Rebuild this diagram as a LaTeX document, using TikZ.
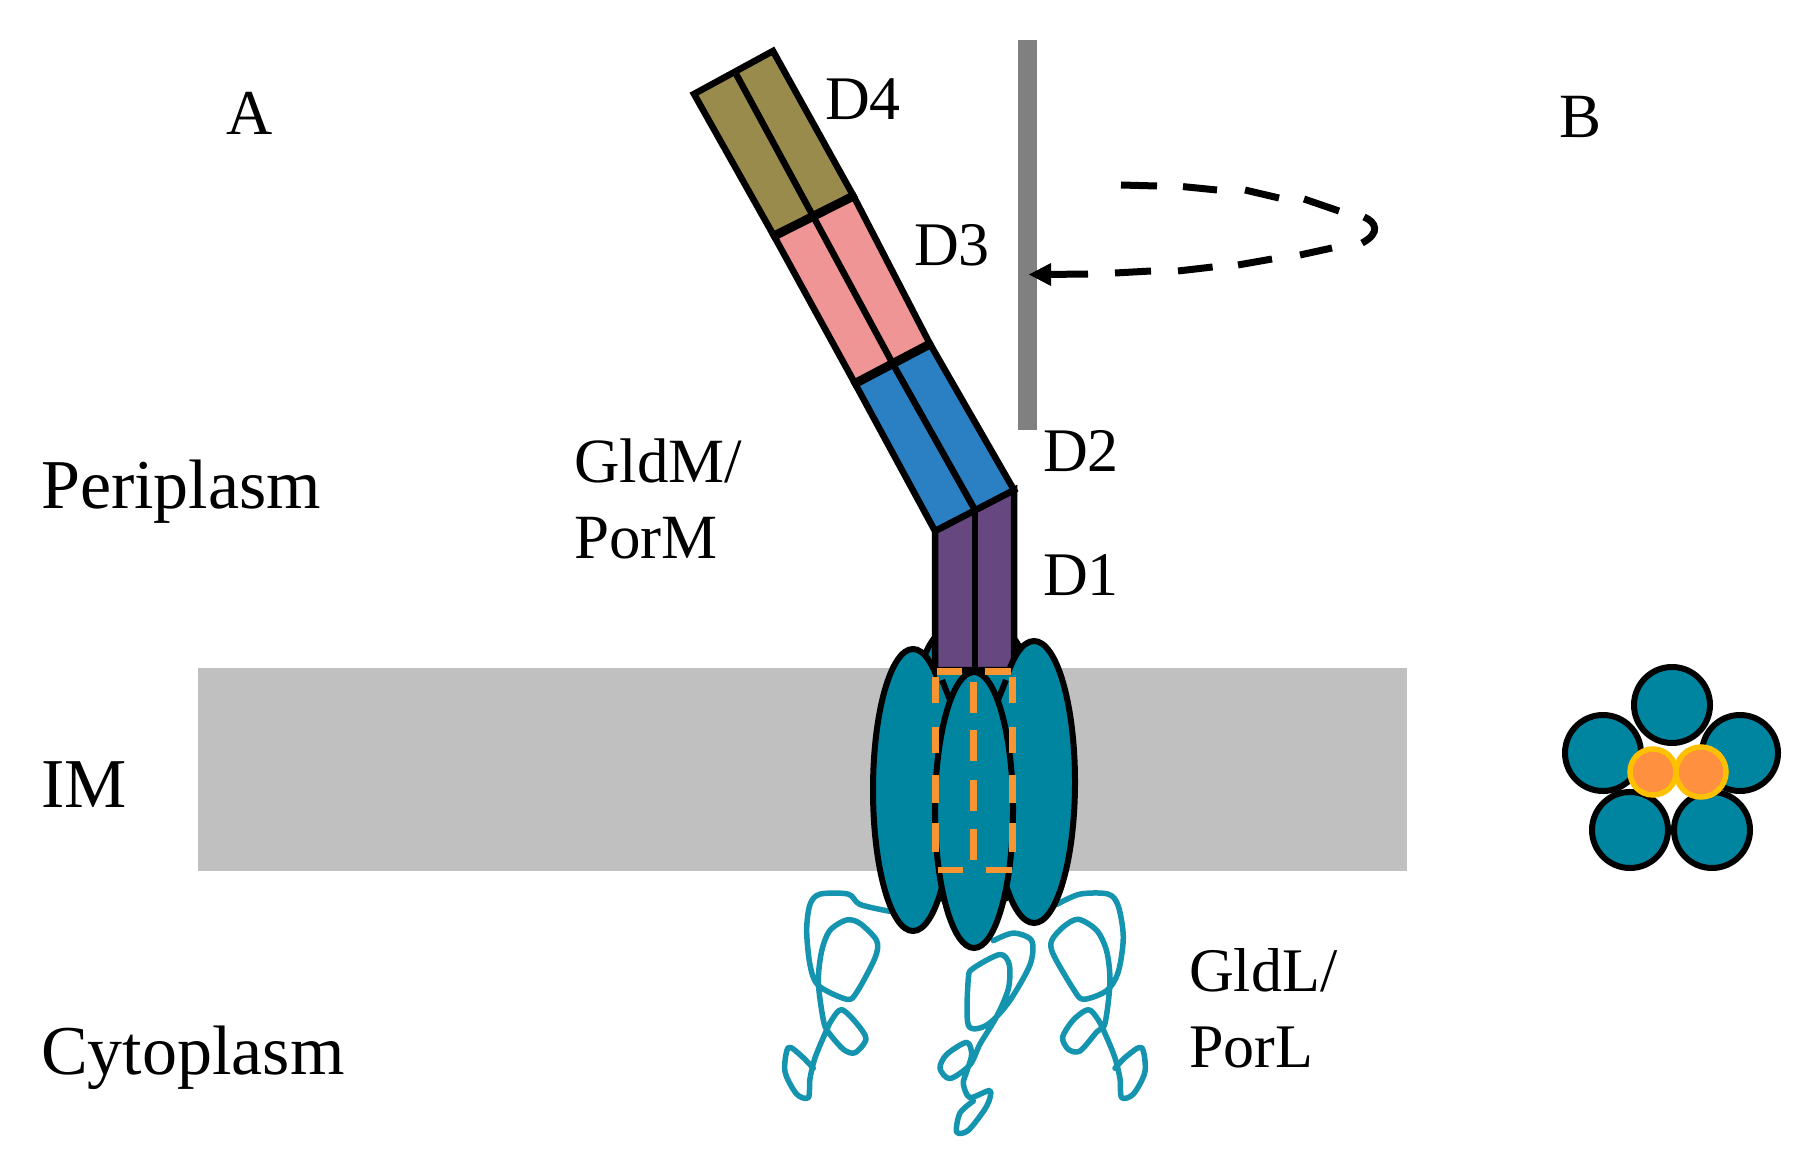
\documentclass[tikz,border=0pt]{standalone}
\usepackage{fontspec}
\setmainfont{Liberation Serif}
\definecolor{teal0}{RGB}{0,133,161}
\definecolor{loopc}{RGB}{20,148,174}
\definecolor{purp}{RGB}{103,71,127}
\definecolor{blu}{RGB}{42,128,194}
\definecolor{pnk}{RGB}{240,149,150}
\definecolor{oliv}{RGB}{152,139,76}
\definecolor{memb}{RGB}{192,192,192}
\definecolor{barc}{RGB}{128,128,128}
\definecolor{orng}{RGB}{247,149,51}
\definecolor{orngf}{RGB}{255,144,64}
\definecolor{ringc}{RGB}{255,192,0}
\tikzset{
  seg/.style={draw=black,line width=6.5pt,line join=miter},
  divi/.style={draw=black,line width=6.5pt},
  subunit/.style={draw=black,fill=teal0,line width=6pt},
  scribble/.style={draw=loopc,line width=5.5pt,line join=round,line cap=round},
  orngdash/.style={draw=orng,line width=6.5pt},
  arrowdash/.style={draw=black,line width=7pt},
  big/.style={inner sep=0pt,anchor=base west,font=\fontsize{70}{72}\selectfont},
  mid/.style={inner sep=0pt,anchor=base west,font=\fontsize{62}{64}\selectfont},
}
\begin{document}
\begin{tikzpicture}[x=1pt,y=-1pt]
\useasboundingbox (0,0) rectangle (1807,1166);
\fill[white] (0,0) rectangle (1807,1166);
% membrane
\fill[memb] (198,668) rectangle (1407,871);
% cytoplasmic loops
\begin{scope}[shift={(760,620)},x=0.3333pt,y=-0.3448pt]
\draw[scribble] plot[smooth,tension=0.5] coordinates {(390,845)(300,825)(265,795)(180,795)(150,825)(140,900)(150,1000)(175,1060)(260,1100)(290,1080)(345,980)(350,930)(300,880)(260,870)(210,900)(185,960)(175,1050)(190,1160)(205,1195)(250,1245)(285,1255)(318,1215)(290,1170)(245,1130)(215,1160)(195,1200)(165,1270)(150,1330)(145,1385)(110,1375)(75,1310)(85,1240)(125,1265)(160,1300)};
\draw[scribble] plot[smooth,tension=0.5] coordinates {(890,825)(960,795)(1045,795)(1075,830)(1090,920)(1075,1020)(1040,1075)(970,1100)(940,1070)(880,970)(875,930)(910,890)(955,868)(1010,900)(1040,960)(1050,1050)(1035,1170)(1010,1195)(960,1250)(925,1245)(908,1210)(940,1160)(985,1130)(1015,1160)(1040,1210)(1065,1270)(1080,1330)(1085,1385)(1120,1375)(1155,1310)(1145,1240)(1100,1265)(1065,1300)};
\draw[scribble] plot[smooth,tension=0.5] coordinates {(700,930)(760,908)(815,930)(810,1000)(745,1110)(680,1175)(625,1175)(625,1040)(640,1010)(720,970)(748,1000)(745,1070)(710,1150)(660,1230)(630,1290)(570,1330)(540,1300)(560,1260)(620,1225)(635,1260)(620,1310)(610,1345)(630,1385)(690,1365)(680,1410)(625,1480)(590,1485)(600,1430)(640,1395)};
\end{scope}
% back subunits
\draw[subunit] (948,765) ellipse [x radius=40,y radius=135];
\draw[subunit] (1000,765) ellipse [x radius=40,y radius=135];
% D1
\draw[seg,fill=purp] (935,531) -- (1014,490) -- (1014,670) -- (935,670) -- cycle;
\draw[divi] (975,510) -- (975,670);
% side and front subunits
\draw[subunit] (913,790) ellipse [x radius=40,y radius=141];
\draw[subunit] (1034,782) ellipse [x radius=41,y radius=141];
\fill[teal0] (937,674) rectangle (1011,740);
\draw[black,line width=6pt] (942,680) -- (952,705);
\draw[black,line width=6pt] (1006,680) -- (996,705);
\draw[subunit] (974,810) ellipse [x radius=39,y radius=138];
% orange dashed box and centre line, dash by dash
\begin{scope}[shift={(760,620)},x=0.3333pt,y=-0.3448pt]
\foreach \ya/\yb in {165/240,310/385,450/530,590/672} {
  \draw[orngdash] (526,\ya) -- (526,\yb);
  \draw[orngdash] (758,\ya) -- (758,\yb);
}
\foreach \xa/\xb in {530/606,674/752} {
  \draw[orngdash] (\xa,150) -- (\xb,150);
  \draw[orngdash] (\xa+4,725) -- (\xb+4,725);
}
\foreach \ya/\yb in {180/270,320/410,465/555,605/695}
  \draw[orngdash] (641,\ya) -- (641,\yb);
\end{scope}
% arm
\draw[seg,fill=blu] (855,383.5) -- (930,344) -- (1014,490) -- (935,531) -- cycle;
\draw[divi] (893.5,365) -- (975,510);
\draw[seg,fill=pnk] (774,236) -- (853.5,196) -- (930,344) -- (855,383.5) -- cycle;
\draw[divi] (813,216) -- (893.5,365);
\draw[seg,fill=oliv] (694,94) -- (773,51) -- (853.5,196) -- (774,236) -- cycle;
\draw[divi] (735,72) -- (813,216);
\draw[black,line width=9pt] (774,236) -- (853.5,196);
\draw[black,line width=9pt] (855,383.5) -- (930,344);
% bar
\fill[barc] (1018,40.5) rectangle (1037,430);
% dashed arrow, dash by dash
\draw[arrowdash] (1121,185) -- (1157,186)
  (1183,186.6) -- (1217,190)
  (1245,190) -- (1279,198)
  (1304,199) -- (1339,211)
  (1332,248) -- (1300,255)
  (1272,259) -- (1238,265)
  (1212.6,267) -- (1178,271)
  (1151,271) -- (1115,273)
  (1088,274) -- (1045,274.5);
\draw[arrowdash] (1364,217) .. controls (1376,222) and (1381,233) .. (1362,243);
\coordinate (arrtip) at (1029,274.5);
\fill[black] (arrtip) -- (1051,263) -- (1051,286) -- cycle;
% pentamer
\foreach \n/\px/\py in {ca/1672/705,cb/1603/753,cc/1740/753,cd/1630/830,ce/1712/830}
  \draw[subunit] (\px,\py) circle [radius=38];
\draw[draw=ringc,fill=orngf,line width=5.5pt] (1653,772) circle [radius=23];
\draw[draw=ringc,fill=orngf,line width=5.5pt] (1701,772) circle [radius=25];
% labels
\node[big] (tperi) at (41,508) {Periplasm};
\node[big] (tim) at (41,807) {IM};
\node[big] (tcyto) at (41,1074) {Cytoplasm};
\node[mid,font=\fontsize{64}{66}\selectfont] (ta) at (226,135) {A};
\node[mid,font=\fontsize{63}{66}\selectfont] (tb) at (1559,138) {B};
\node[mid] (td4) at (825,120) {D4};
\node[mid] (td3) at (914,266) {D3};
\node[mid] (td2) at (1043,471) {D2};
\node[mid] (td1) at (1043,595) {D1};
\node[mid,font=\fontsize{63}{66}\selectfont] (tgm) at (574,482) {GldM/};
\node[mid,font=\fontsize{63}{66}\selectfont] (tpm) at (574,558) {PorM};
\node[mid] (tgl) at (1189,991) {GldL/};
\node[mid] (tpl) at (1189,1067) {PorL};
\end{tikzpicture}
\end{document}
